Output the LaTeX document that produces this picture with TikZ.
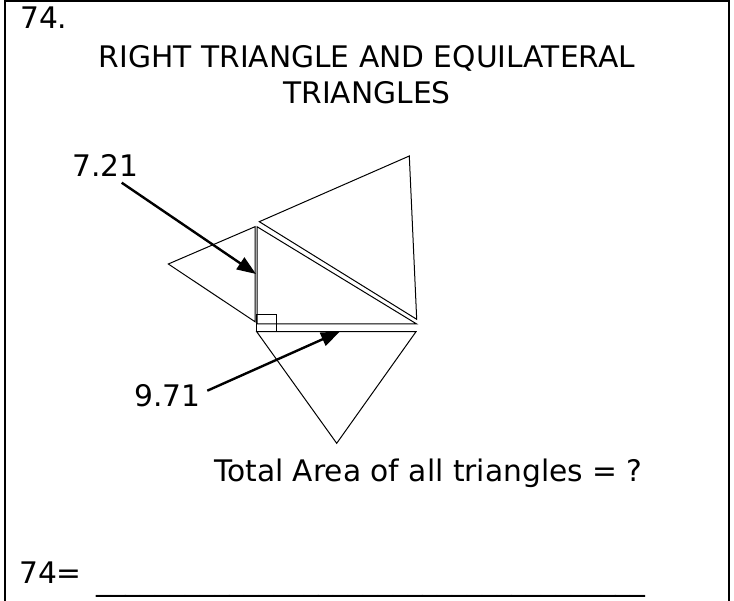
\documentclass[tikz,border=0pt]{standalone}
\usepackage{fontspec}
\setmainfont{DejaVu Sans}
\usetikzlibrary{arrows.meta}
\begin{document}
\begin{tikzpicture}[x=1pt,y=-1pt,
  tri/.style={draw=black,line width=1pt,line join=miter},
  lbl/.style={inner sep=0pt,font=\fontsize{29.7}{35}\selectfont},
  pointer/.style={draw=black,line width=2.4pt,-{Triangle[length=19pt,width=14pt]}},
  frame/.style={draw=black,line width=2pt}]
\useasboundingbox (0,0) rectangle (734,601);
% frame
\coordinate (F1) at (5,610);
\coordinate (F2) at (5,1);
\coordinate (F3) at (729,1);
\coordinate (F4) at (729,610);
\draw[frame] (F1) -- (F2) -- (F3) -- (F4);
% right triangle
\coordinate (RT) at (257,226.7);
\coordinate (RA) at (257,324);
\coordinate (RR) at (416.7,324);
\draw[tri] (RT) -- (RA) -- (RR) -- cycle;
% left equilateral
\coordinate (LT) at (255,226.7);
\coordinate (LB) at (255,321.7);
\coordinate (LL) at (168.3,264);
\draw[tri] (LT) -- (LB) -- (LL) -- cycle;
% upper equilateral
\coordinate (UA) at (259.3,221.7);
\coordinate (UB) at (409.3,156);
\coordinate (UC) at (416.7,319.3);
\draw[tri] (UA) -- (UB) -- (UC) -- cycle;
% bottom equilateral
\coordinate (BL) at (256.7,331.7);
\coordinate (BR) at (416,331.7);
\coordinate (BA) at (336.7,443.3);
\draw[tri] (BL) -- (BR) -- (BA) -- cycle;
% right-angle mark
\coordinate (SQ1) at (256.7,315);
\coordinate (SQ2) at (276,331.7);
\draw[tri] (SQ1) rectangle (SQ2);
% texts
\node[lbl,anchor=base west] (n74) at (20,28.5) {74.};
\node[lbl,anchor=base] (t1) at (367,67.7) {RIGHT TRIANGLE AND EQUILATERAL};
\node[lbl,anchor=base] (t2) at (367,104) {TRIANGLES};
\node[lbl,anchor=base west] (l721) at (72,176.7) {7.21};
\node[lbl,anchor=base west] (l971) at (134,406.5) {9.71};
\node[lbl,anchor=base west] (q) at (214,481.7) {Total Area of all triangles = ?};
\node[lbl,anchor=base west] (ans) at (19,583) {74=};
\node[lbl,anchor=base west] (blank) at (96,590.5) {\_\_\_\_\_\_\_\_\_\_\_\_\_\_\_\_\_\_\_\_\_\_\_\_\_\_\_\_\_\_\_\_\_\_\_\_\_};
% arrows
\coordinate (a1s) at (121.7,182.7);
\coordinate (a1e) at (256,274);
\coordinate (a2s) at (207.3,390.7);
\coordinate (a2e) at (340,331.5);
\draw[pointer] (a1s) -- (a1e);
\draw[pointer] (a2s) -- (a2e);
\end{tikzpicture}
\end{document}
